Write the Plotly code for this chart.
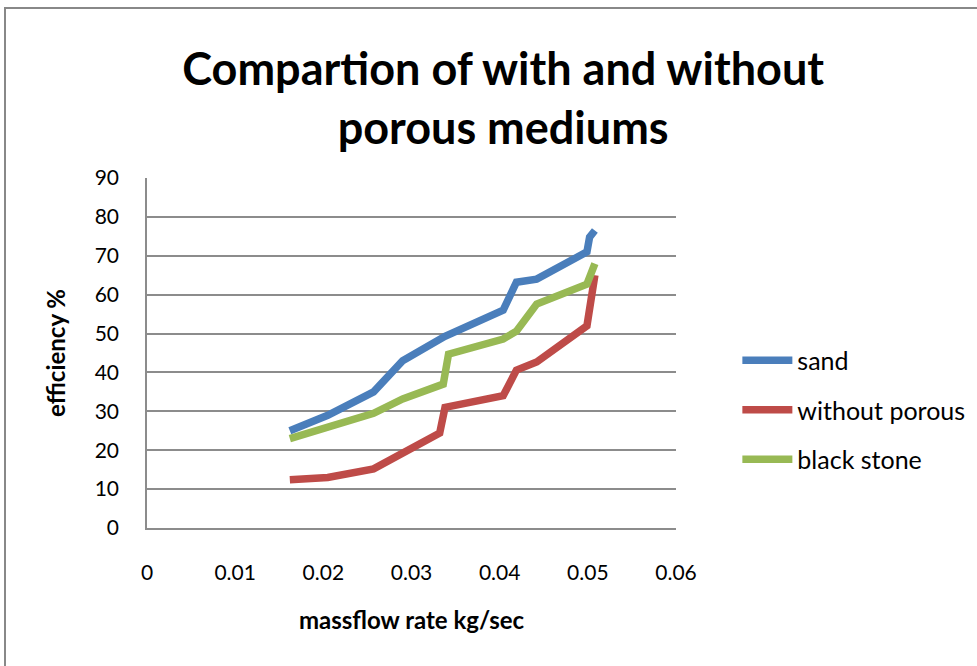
import plotly.graph_objects as go

# Data
sand_x = [0.0162, 0.0205, 0.0257, 0.0290, 0.0338, 0.0404, 0.0419, 0.0442, 0.0499, 0.0502, 0.0508]
sand_y = [25.0, 29.0, 35.0, 43.0, 49.3, 56.0, 63.2, 64.0, 71.0, 74.8, 76.5]

without_x = [0.0162, 0.0205, 0.0257, 0.0332, 0.0338, 0.0404, 0.0419, 0.0442, 0.0499, 0.0508]
without_y = [12.4, 13.0, 15.2, 24.4, 31.0, 34.0, 40.6, 42.7, 52.0, 65.0]

black_x = [0.0162, 0.0257, 0.0290, 0.0336, 0.0342, 0.0404, 0.0419, 0.0442, 0.0499, 0.0508]
black_y = [23.0, 29.5, 33.2, 37.0, 44.7, 48.6, 50.6, 57.6, 62.7, 68.0]

x_ticks = [0, 0.01, 0.02, 0.03, 0.04, 0.05, 0.06]
x_tick_labels = ["0", "0.01", "0.02", "0.03", "0.04", "0.05", "0.06"]
y_ticks = [0, 10, 20, 30, 40, 50, 60, 70, 80, 90]

FONT = "Lato, Calibri, 'Open Sans', sans-serif"

fig = go.Figure()
fig.add_trace(go.Scatter(x=sand_x, y=sand_y, mode="lines", name="sand", legendgroup="a",
                         line=dict(color="#4A7EBB", width=7.5)))
fig.add_trace(go.Scatter(x=without_x, y=without_y, mode="lines", name="without porous", legendgroup="b",
                         line=dict(color="#BE4B48", width=7.5)))
fig.add_trace(go.Scatter(x=black_x, y=black_y, mode="lines", name="black stone", legendgroup="c",
                         line=dict(color="#98B954", width=7.5)))

fig.update_layout(
    width=977, height=666,
    paper_bgcolor="white", plot_bgcolor="white",
    margin=dict(l=147, r=301, t=178, b=138, autoexpand=False),
    font=dict(family=FONT, color="black", size=21),
    title=dict(text="<b>Compartion of with and without<br>porous mediums</b>",
               x=0.515, xref="container", xanchor="center",
               y=0.872, yref="container", yanchor="top",
               font=dict(size=45, family=FONT, color="black")),
    showlegend=True,
    legend=dict(x=1.116, xanchor="left", y=(528 - 410) / 350, yanchor="middle",
                font=dict(size=25, family=FONT),
                tracegroupgap=14, itemwidth=50,
                bgcolor="rgba(0,0,0,0)"),
    xaxis=dict(range=[0, 0.06], tickvals=x_ticks, ticktext=x_tick_labels,
               showgrid=False, zeroline=False, showline=True,
               linecolor="#8C8C8C", linewidth=1.5,
               ticks="", ticklen=0, tickfont=dict(size=21), ticklabelstandoff=25,
               title=dict(text="<b>massflow rate kg/sec</b>", font=dict(size=24), standoff=29)),
    yaxis=dict(range=[0, 90], tickvals=y_ticks,
               showgrid=True, gridcolor="#8C8C8C", gridwidth=1.5,
               zeroline=False, showline=True, linecolor="#8C8C8C", linewidth=1.5,
               ticks="", tickfont=dict(size=21), ticklabelstandoff=22,
               title=dict(text="<b>efficiency %</b>", font=dict(size=24), standoff=22)),
)

# outer chart-area border (as in the spreadsheet export)
fig.add_shape(type="rect", xref="paper", yref="paper",
              x0=(5 - 147) / 529, x1=(990 - 147) / 529,
              y0=(528 - 690) / 350, y1=(528 - 8) / 350,
              line=dict(color="#888888", width=2), fillcolor="rgba(0,0,0,0)", layer="below")

fig.write_html("out.html", config={"displayModeBar": False},
               post_script="document.body.style.margin='0';document.body.style.overflow='hidden';")
